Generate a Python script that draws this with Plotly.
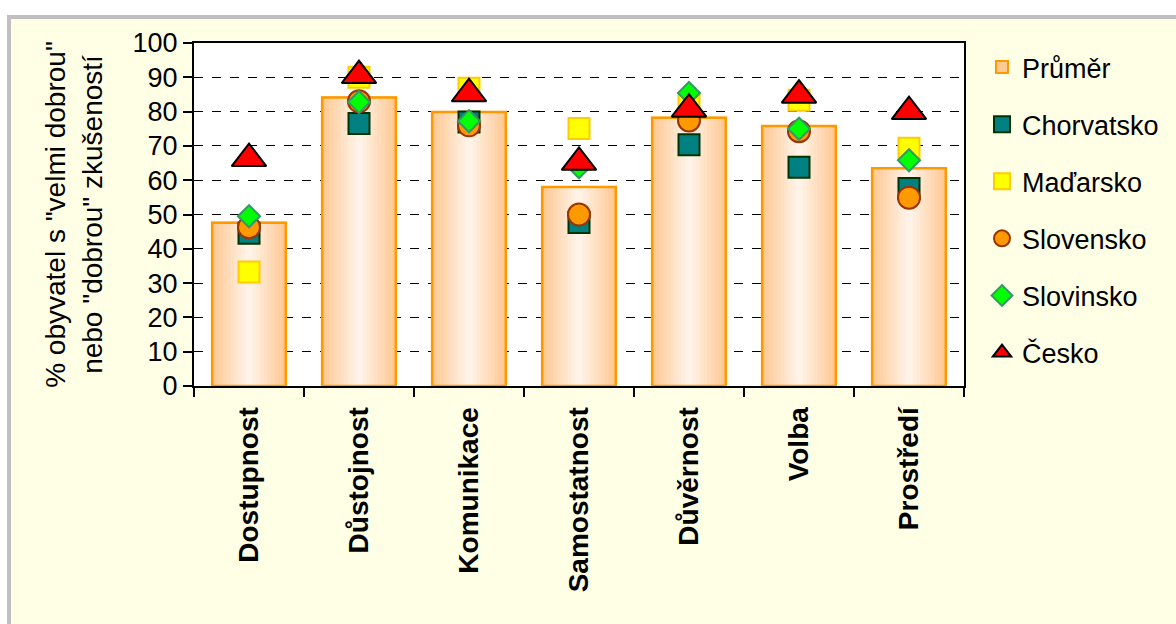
import plotly.graph_objects as go

# Hodnocení zkušeností podle oblastí
categories = ["Dostupnost", "Důstojnost", "Komunikace", "Samostatnost",
              "Důvěrnost", "Volba", "Prostředí"]
prumer = [47.6, 84.1, 79.9, 58.0, 78.2, 75.8, 63.5]
chorvatsko = [44.5, 76.5, 77.0, 47.7, 70.3, 63.8, 57.6]
madarsko = [33.2, 90.0, 86.8, 75.1, 81.8, 83.3, 69.3]
slovensko = [46.3, 83.0, 76.0, 50.0, 77.4, 74.3, 54.9]
slovinsko = [49.5, 82.8, 77.2, 63.8, 85.4, 75.0, 65.8]
cesko = [66.3, 90.5, 85.2, 65.2, 80.7, 84.8, 80.0]
y_ticks = list(range(0, 101, 10))

W, H = 1176, 624
L, R, T, B = 194, 212, 43, 238
FONT = "Liberation Sans, Arial, sans-serif"


def mix(c1, c2, t):
    a = [int(c1[i:i + 2], 16) for i in (1, 3, 5)]
    b = [int(c2[i:i + 2], 16) for i in (1, 3, 5)]
    return "#" + "".join(f"{round(x + (y - x) * t):02X}" for x, y in zip(a, b))


fig = go.Figure()

# Sloupce "Průměr": vrstvené pruhy ubývající šířky dávají přechod barvy
bar_width = 0.67
layers = 10
for i in range(layers):
    w = bar_width * (1 - i / layers)
    col = mix("#FFC994", "#FFF3E8", i / (layers - 1))
    fig.add_trace(go.Bar(
        x=categories, y=prumer, width=w, name="Průměr",
        marker=dict(color=col,
                    line=dict(color="#FF9900", width=2 if i == 0 else 0)),
        showlegend=(i == 0), legendgroup="prumer",
        hoverinfo="skip" if i else None,
    ))
# obrys sloupců navrch
fig.add_trace(go.Bar(
    x=categories, y=prumer, width=bar_width, name="Průměr",
    marker=dict(color="rgba(0,0,0,0)", line=dict(color="#FF9900", width=2.5)),
    showlegend=False, legendgroup="prumer",
))

series = [
    ("Chorvatsko", chorvatsko, "square", 21, "#008080", "#003300"),
    ("Maďarsko", madarsko, "square", 21, "#FFFF00", "#FFCC00"),
    ("Slovensko", slovensko, "circle", 22, "#FF9900", "#993300"),
    ("Slovinsko", slovinsko, "diamond", 17, "#00FF00", "#339966"),
    ("Česko", cesko, "triangle-up", 30, "#FF0000", "#000000"),
]
for name, vals, sym, size, fill, edge in series:
    fig.add_trace(go.Scatter(
        x=categories, y=vals, mode="markers", name=name, legendgroup=name,
        marker=dict(symbol=sym, size=size, color=fill,
                    line=dict(color=edge, width=2)),
    ))


def px_x(p):
    return (p - L) / (W - L - R)


def px_y(p):
    return (H - B - p) / (H - T - B)


fig.update_layout(
    width=W, height=H,
    margin=dict(l=L, r=R, t=T, b=B, pad=0),
    barmode="overlay",
    paper_bgcolor="#FFFFFF",
    plot_bgcolor="#FFFFFF",
    font=dict(family=FONT, size=27, color="#000000"),
    shapes=[
        # rámeček grafu
        dict(type="rect", xref="paper", yref="paper", layer="below",
             x0=px_x(9), x1=px_x(1200), y0=px_y(640), y1=px_y(17),
             fillcolor="#FFFFE6", line=dict(color="#C0C0C0", width=4)),
        # bílá plocha vykreslovací oblasti
        dict(type="rect", xref="x domain", yref="y domain", layer="below",
             x0=0, x1=1, y0=0, y1=1, fillcolor="#FFFFFF", line=dict(width=0)),
    ],
    legend=dict(
        x=px_x(982), y=px_y(43), xanchor="left", yanchor="top",
        bgcolor="rgba(0,0,0,0)", traceorder="grouped", tracegroupgap=19,
        font=dict(family=FONT, size=27, color="#000000"),
        itemsizing="trace",
    ),
    bargap=0.33,
)

fig.update_xaxes(
    type="category", categoryorder="array", categoryarray=categories,
    tickson="boundaries", ticks="outside", ticklen=9, tickwidth=2,
    tickcolor="#000000",
    showline=True, linewidth=2, linecolor="#000000", mirror=True,
    showgrid=False, tickangle=-90, ticklabelstandoff=8,
    tickfont=dict(family=FONT, size=28, color="#000000", weight="bold"),
    range=[-0.5, len(categories) - 0.5],
)
fig.update_yaxes(
    range=[0, 100], tickvals=y_ticks, ticks="outside", ticklen=9, tickwidth=2,
    tickcolor="#000000",
    showline=True, linewidth=2, linecolor="#000000", mirror=True,
    showgrid=True, gridcolor="#000000", gridwidth=1, griddash="dash",
    zeroline=False,
    tickfont=dict(family=FONT, size=27, color="#000000"),
    title=dict(text='% obyvatel s "velmi dobrou"<br>nebo "dobrou" zkušeností',
               font=dict(family=FONT, size=28, color="#000000"), standoff=22),
)

fig.write_html("out.html")
